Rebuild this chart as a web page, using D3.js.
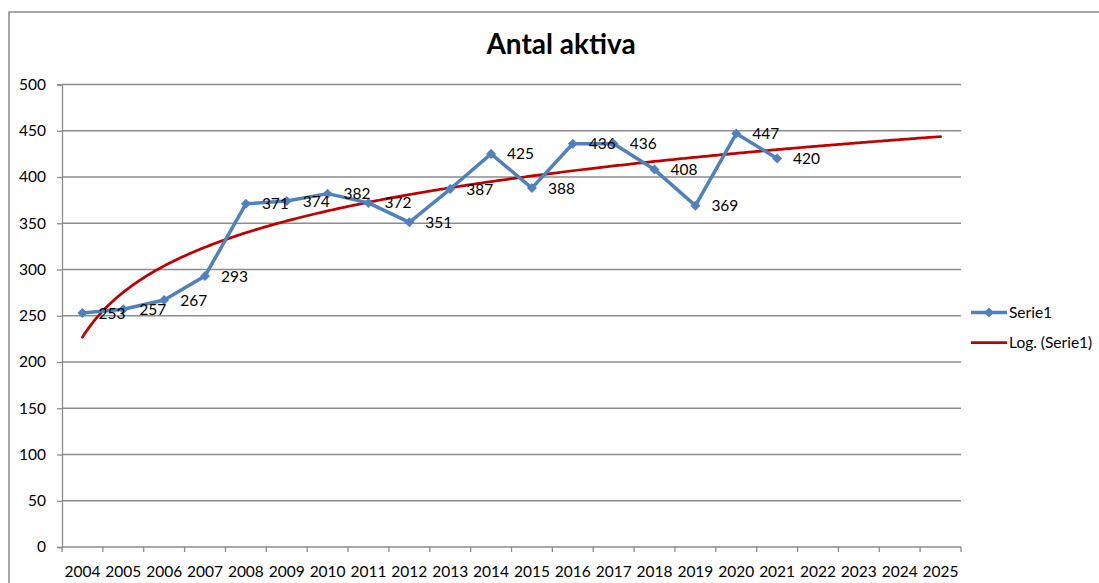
<!DOCTYPE html>
<html>
<head>
<meta charset="utf-8">
<script src="https://cdn.jsdelivr.net/npm/d3@7"></script>
<style>
  html, body { margin: 0; padding: 0; background: #fff; }
  svg { display: block; }
  text { font-family: Lato, "Open Sans", sans-serif; fill: #000; }
</style>
</head>
<body>
<svg id="chart" width="1099" height="583"></svg>
<script>
const title = "Antal aktiva";
const categories = ["2004","2005","2006","2007","2008","2009","2010","2011","2012","2013","2014","2015","2016","2017","2018","2019","2020","2021","2022","2023","2024","2025"];
const values = [253,257,267,293,371,374,382,372,351,387,425,388,436,436,408,369,447,420];
const yTicks = [0,50,100,150,200,250,300,350,400,450,500];
const seriesName = "Serie1";
const trendName = "Log. (Serie1)";

(function () {
const svg = d3.select("#chart");
const pLeft = 62, pRight = 961, pTop = 84.5, pBottom = 547;
const fs = "15.5px";

// outer chart border
svg.append("rect").attr("x", 9).attr("y", 12).attr("width", 1200).attr("height", 700)
  .attr("fill", "none").attr("stroke", "#8a8a8a").attr("stroke-width", 1.5);

const x = d3.scaleBand().domain(categories).range([pLeft, pRight]).padding(0);
const y = d3.scaleLinear().domain([0, 500]).range([pBottom, pTop]);

// gridlines
svg.append("g").selectAll("line").data(yTicks.filter(d => d > 0)).join("line")
  .attr("x1", pLeft).attr("x2", pRight)
  .attr("y1", d => y(d)).attr("y2", d => y(d))
  .attr("stroke", "#8c8c8c").attr("stroke-width", 1.3);

// y axis
const yAxis = d3.axisLeft(y).tickValues(yTicks).tickSize(5).tickPadding(11).tickFormat(d3.format("d"));
const gy = svg.append("g").attr("transform", `translate(${pLeft},0)`).call(yAxis);
gy.select(".domain").attr("stroke", "#8c8c8c").attr("stroke-width", 1.3);
gy.selectAll(".tick line").attr("stroke", "#8c8c8c").attr("stroke-width", 1.3);
gy.selectAll(".tick text").style("font-family", "Lato").style("font-size", fs).attr("fill", "#000");

// x axis: ticks at band boundaries
const gx = svg.append("g").attr("transform", `translate(0,${pBottom})`);
gx.append("line").attr("x1", pLeft).attr("x2", pRight).attr("y1", 0).attr("y2", 0)
  .attr("stroke", "#8c8c8c").attr("stroke-width", 1.3);
const boundaries = categories.map(c => x(c)).concat([pRight]);
gx.selectAll("line.tk").data(boundaries).join("line").attr("class", "tk")
  .attr("x1", d => d).attr("x2", d => d).attr("y1", 0).attr("y2", 5)
  .attr("stroke", "#8c8c8c").attr("stroke-width", 1.3);
gx.selectAll("text").data(categories).join("text")
  .attr("x", d => x(d) + x.bandwidth() / 2).attr("y", 30)
  .attr("text-anchor", "middle").style("font-size", fs).text(d => d);

const cx = i => x(categories[i]) + x.bandwidth() / 2;

// logarithmic trendline (least squares fit of y = a ln(n) + b, n = 1..N)
const L = values.map((v, i) => Math.log(i + 1));
const mL = d3.mean(L), mV = d3.mean(values);
const a = d3.sum(L.map((l, i) => (l - mL) * (values[i] - mV))) / d3.sum(L.map(l => (l - mL) ** 2));
const b = mV - a * mL;
const trendPts = [];
for (let t = 0; t <= (categories.length - 1) + 1e-9; t += 0.05) {
  trendPts.push([t, a * Math.log(t + 1) + b]);
}
const xc = d3.scaleLinear().domain([0, categories.length - 1]).range([cx(0), cx(categories.length - 1)]);
svg.append("path").datum(trendPts)
  .attr("d", d3.line().x(d => xc(d[0])).y(d => y(d[1])))
  .attr("fill", "none").attr("stroke", "#c00000").attr("stroke-width", 2.75).attr("stroke-linecap", "round");

// series line
svg.append("path").datum(values)
  .attr("d", d3.line().x((d, i) => cx(i)).y(d => y(d)))
  .attr("fill", "none").attr("stroke", "#4f81bd").attr("stroke-width", 3.5).attr("stroke-linejoin", "round");

const diamond = d3.symbol().type(d3.symbolDiamond2).size(64);
svg.append("g").selectAll("path").data(values).join("path")
  .attr("transform", (d, i) => `translate(${cx(i)},${y(d)})`)
  .attr("d", diamond).attr("fill", "#4f81bd");

// data labels
svg.append("g").selectAll("text").data(values).join("text")
  .attr("x", (d, i) => cx(i) + 16).attr("y", d => y(d)).attr("dy", "0.36em")
  .style("font-size", fs).text(d => d);

// title
svg.append("text").attr("x", 561).attr("y", 54).attr("text-anchor", "middle")
  .style("font-size", "28px").style("font-weight", "bold").text(title);

// legend
const lg = svg.append("g");
lg.append("line").attr("x1", 971).attr("x2", 1007).attr("y1", 312.5).attr("y2", 312.5)
  .attr("stroke", "#4f81bd").attr("stroke-width", 3.5);
lg.append("path").attr("transform", "translate(989,312.5)").attr("d", diamond).attr("fill", "#4f81bd");
lg.append("text").attr("x", 1009).attr("y", 312.5).attr("dy", "0.36em").style("font-size", fs).text(seriesName);
lg.append("line").attr("x1", 971).attr("x2", 1007).attr("y1", 342.5).attr("y2", 342.5)
  .attr("stroke", "#c00000").attr("stroke-width", 2.75);
lg.append("text").attr("x", 1009).attr("y", 342.5).attr("dy", "0.36em").style("font-size", fs).text(trendName);
})();
</script>
</body>
</html>
